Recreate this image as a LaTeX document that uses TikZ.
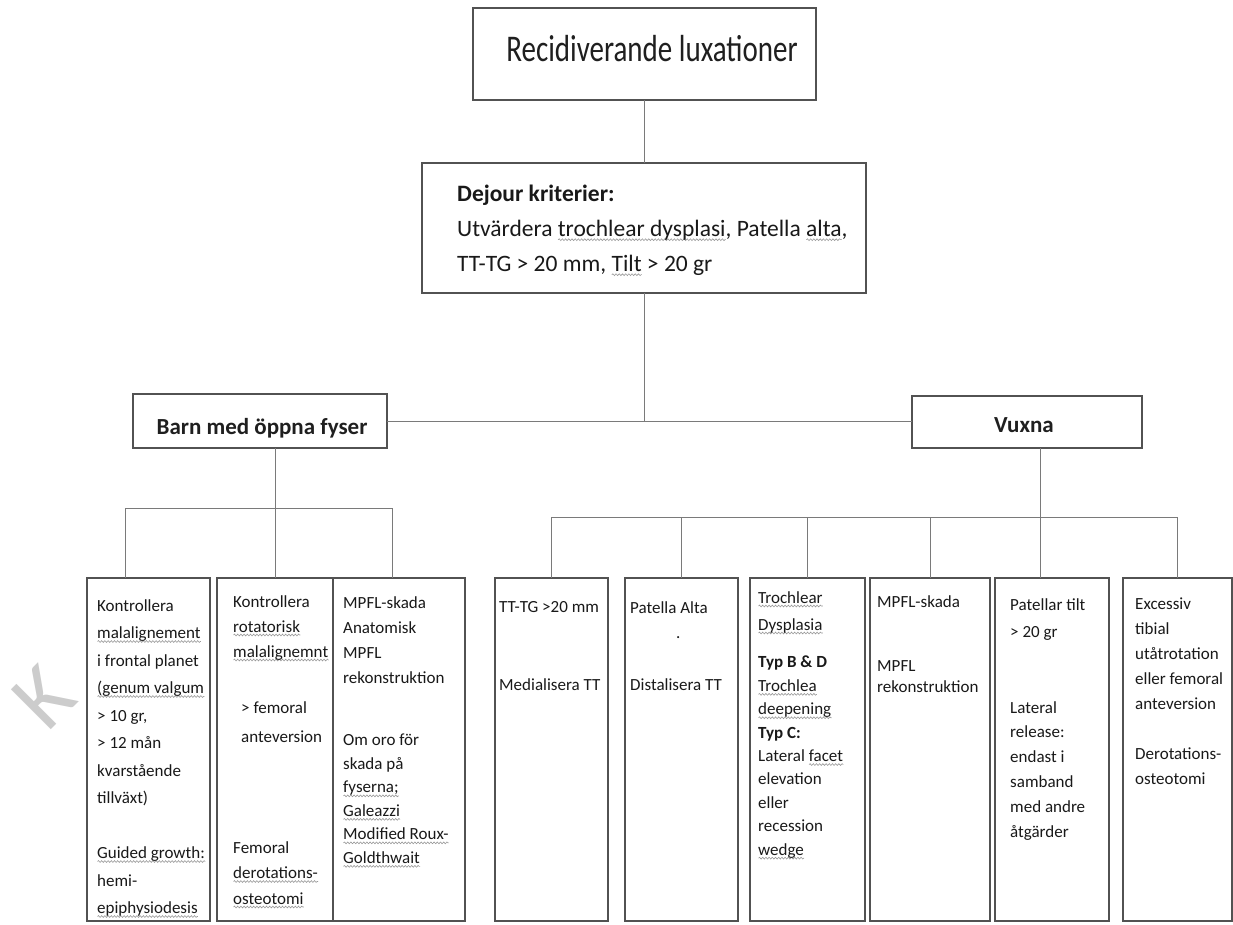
\documentclass[tikz,border=0pt]{standalone}
\usepackage{fontspec}
\setmainfont{Carlito}
\usetikzlibrary{decorations.pathmorphing}
\newsavebox\sqbox
\newcommand\sq[1]{\sbox\sqbox{#1}\rlap{\tikz[baseline=0pt]\draw[black!40, line width=0.6pt, decorate, decoration={snake, amplitude=0.9pt, segment length=3.2pt}] (0pt,-3pt) -- (\wd\sqbox,-3pt);}\usebox\sqbox}
\tikzset{
  box/.style={draw=black!68, line width=2.4pt, fill=white, inner sep=0pt, outer sep=0pt},
  link/.style={draw=black!52, line width=0.9pt},
  txt/.style={anchor=north west, align=left, inner sep=0pt, text=black!90,
              font=\fontsize{17}{25}\selectfont},
}
\begin{document}
\begin{tikzpicture}[x=1pt,y=-1pt]
\useasboundingbox (0,0) rectangle (1233,924);
% watermark
\node[rotate=45, text=black!20, font=\fontsize{88}{88}\selectfont, inner sep=0pt] (wm) at (44,697) {K};
% main boxes
\node[box, minimum width=343, minimum height=92] (top) at (644.5,54) {};
\node[box, minimum width=444, minimum height=130] (dejour) at (644,228) {};
\node[box, minimum width=254, minimum height=54] (barn) at (260,421) {};
\node[box, minimum width=230, minimum height=52] (vuxna) at (1027,422) {};
% bottom boxes
\node[box, minimum width=123, minimum height=343] (b1) at (148.5,749.5) {};
\node[box, minimum width=116, minimum height=343] (b2) at (275,749.5) {};
\node[box, minimum width=132, minimum height=343] (b3) at (399,749.5) {};
\node[box, minimum width=113, minimum height=343] (b4) at (551.5,749.5) {};
\node[box, minimum width=113, minimum height=343] (b5) at (681.5,749.5) {};
\node[box, minimum width=115, minimum height=343] (b6) at (807.5,749.5) {};
\node[box, minimum width=120, minimum height=343] (b7) at (930,749.5) {};
\node[box, minimum width=114, minimum height=343] (b8) at (1052,749.5) {};
\node[box, minimum width=109, minimum height=343] (b9) at (1177.5,749.5) {};
% connectors
\draw[link] (top.south -| dejour.north) -- (dejour.north);
\draw[link] (dejour.south) -- (dejour.south |- barn.east);
\draw[link] (barn.east) -- (barn.east -| vuxna.west);
\coordinate (bl) at (125,508);
\coordinate (br) at (392,508);
\draw[link] (bl) -- (br);
\draw[link] (bl) -- (bl |- b1.north);
\draw[link] (barn.south -| b2.north) -- (b2.north);
\draw[link] (br) -- (br |- b3.north);
\coordinate (vl) at (551.5,517);
\coordinate (vr) at (1177.5,517);
\coordinate (vd) at (1040,517);
\draw[link] (vl) -- (vr);
\draw[link] (vl) -- (b4.north);
\draw[link] (vl -| b5.north) -- (b5.north);
\draw[link] (vl -| b6.north) -- (b6.north);
\draw[link] (vl -| b7.north) -- (b7.north);
\draw[link] (vd |- vuxna.south) -- (vd |- b8.north);
\draw[link] (vr) -- (b9.north);
% texts of main boxes
\node[inner sep=0pt, text=black!88, font=\fontsize{29}{32}\selectfont] (ttl) at (652,49) {\scalebox{1}[1.3]{Recidiverande luxationer}};
\node[txt, font=\fontsize{23.5}{35}\selectfont] (djt) at (457,185)
  {\textbf{Dejour kriterier:}\\
   Utvärdera \sq{trochlear dysplasi}, Patella \sq{alta},\\
   TT-TG > 20 mm, \sq{Tilt} > 20 gr};
\node[inner sep=0pt, text=black!88, font=\bfseries\fontsize{23}{28}\selectfont] (barnt) at (262,428) {Barn med öppna fyser};
\node[inner sep=0pt, text=black!88, font=\bfseries\fontsize{23}{28}\selectfont] (vuxt) at (1024,425) {Vuxna};
% texts of bottom boxes
\node[txt, font=\fontsize{17}{27.5}\selectfont] (t1) at (97,599)
  {Kontrollera\\ \sq{malalignement}\\ i frontal planet\\ \sq{(genum valgum}\\ > 10 gr,\\ > 12 mån\\ kvarstående\\ tillväxt)\\[27.5pt]
   \sq{Guided growth:}\\ hemi-\\ \sq{epiphysiodesis}};
\node[txt] (t2a) at (233,595) {Kontrollera\\ \sq{rotatorisk}\\ \sq{malalignemnt}};
\node[txt, font=\fontsize{17}{29}\selectfont] (t2b) at (241,701) {> femoral\\ anteversion};
\node[txt, font=\fontsize{17}{25.5}\selectfont] (t2c) at (233,841) {Femoral\\ \sq{derotations-}\\ \sq{osteotomi}};
\node[txt] (t3a) at (343,596) {MPFL-skada\\ Anatomisk\\ MPFL\\ rekonstruktion};
\node[txt, font=\fontsize{17}{23.5}\selectfont] (t3b) at (343,734) {Om oro för\\ skada på\\ \sq{fyserna;}\\ \sq{Galeazzi}\\ \sq{Modified Roux-}\\ \sq{Goldthwait}};
\node[txt] (t4a) at (499,601) {TT-TG >20 mm};
\node[txt] (t4b) at (499,678) {Medialisera TT};
\node[txt] (t5a) at (630,601) {Patella Alta};
\node[txt] (t5d) at (676,636) {.};
\node[txt] (t5b) at (630,678) {Distalisera TT};
\node[txt, font=\fontsize{17}{27}\selectfont] (t6a) at (758,591) {\sq{Trochlear}\\ \sq{Dysplasia}};
\node[txt, font=\fontsize{17}{23.4}\selectfont] (t6b) at (758,656)
  {\textbf{Typ B \& D}\\ \sq{Trochlea}\\ \sq{deepening}\\ \textbf{Typ C:}\\ Lateral \sq{facet}\\ elevation\\ eller\\ recession\\ \sq{wedge}};
\node[txt] (t7a) at (877,595) {MPFL-skada};
\node[txt, font=\fontsize{17}{21}\selectfont] (t7b) at (877,660) {MPFL\\ rekonstruktion};
\node[txt, font=\fontsize{17}{27}\selectfont] (t8a) at (1010,598) {Patellar tilt\\ > 20 gr};
\node[txt, font=\fontsize{17}{24.8}\selectfont] (t8b) at (1010,701) {Lateral\\ release:\\ endast i\\ samband\\ med andre\\ åtgärder};
\node[txt] (t9a) at (1135,598) {Excessiv\\ tibial\\ utåtrotation\\ eller femoral\\ anteversion};
\node[txt] (t9b) at (1135,748) {Derotations-\\ osteotomi};
\end{tikzpicture}
\end{document}
